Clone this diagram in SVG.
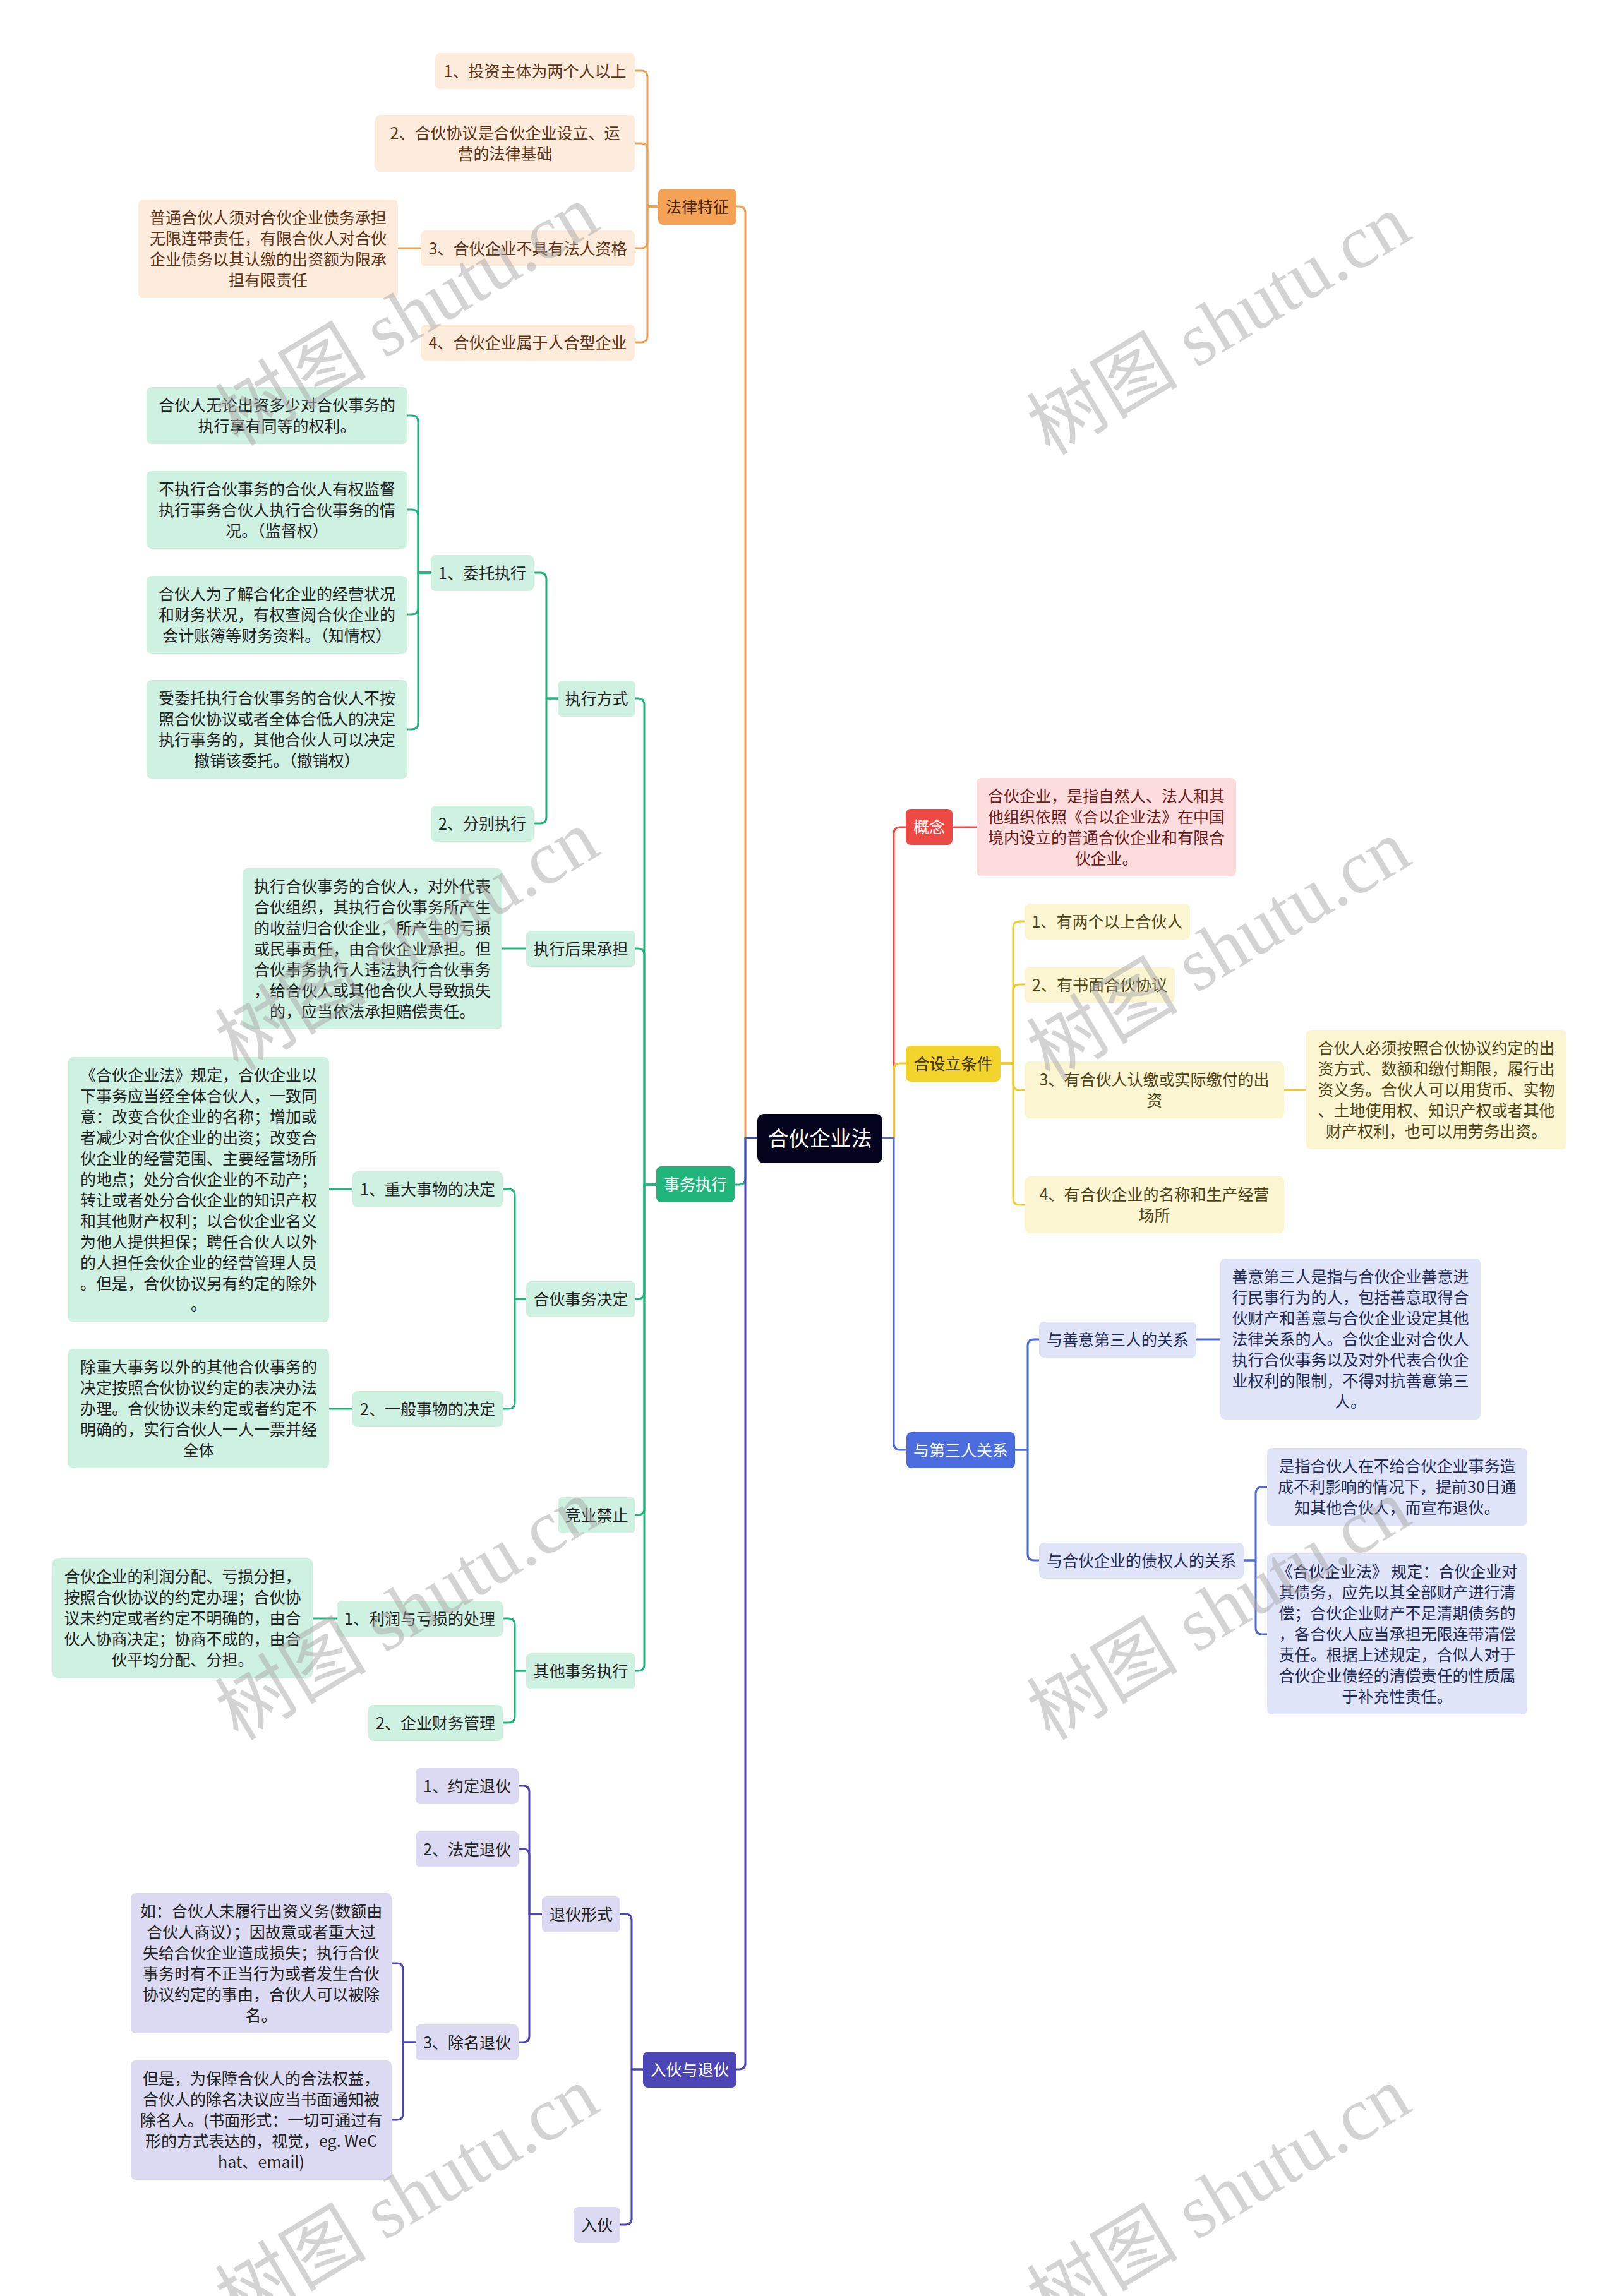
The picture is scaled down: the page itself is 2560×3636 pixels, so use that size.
<svg xmlns="http://www.w3.org/2000/svg" width="2560" height="3636" viewBox="0 0 2560 3636">
<style>
text{font-family:"Noto Sans CJK SC","Noto Sans",sans-serif;font-size:25px;text-anchor:middle}
.c{fill:none;stroke-width:3;stroke-linecap:round;stroke-linejoin:round}
.co{stroke:#f0a050}.cg{stroke:#21b57b}.cp{stroke:#4c45b6}.cr{stroke:#ec4a44}.cy{stroke:#eccc2c}.cb{stroke:#4a6ad8}
.root{fill:#05041f}.tr{fill:#fff;font-size:33px}
.mo{fill:#f3a256}.tmo{fill:#4a2508}
.lo{fill:#fdebdb}.tlo{fill:#5c3317}
.mr{fill:#ee4a45}.tw{fill:#fff}
.lr{fill:#fddcdd}.tlr{fill:#6b1a1a}
.my{fill:#f2d32c}.tmy{fill:#3d3300}
.ly{fill:#fcf5d2}.tly{fill:#4d4418}
.mb{fill:#4a6cdc}
.lb{fill:#dfe4f9}.tlb{fill:#1e2a5a}
.mg{fill:#21b57b}
.lg{fill:#cff1e2}.tlg{fill:#222}
.mp{fill:#4c45b6}
.lp{fill:#dcdaf2}.tlp{fill:#222}
.wm{font-family:"Liberation Serif","Noto Sans CJK SC",serif;font-size:120px;fill:#a8a8a8;fill-opacity:0.5}
</style>
<g id="connectors">
<path class="c co" d="M1199,1802 H1180 V337 Q1180,327 1170,327 H1166"/>
<path class="c co" d="M1005,112 H1015 Q1025,112 1025,122 V327 H1042"/>
<path class="c co" d="M1005,227 H1015 Q1025,227 1025,237 V327 H1042"/>
<path class="c co" d="M1005,393 H1015 Q1025,393 1025,383 V327 H1042"/>
<path class="c co" d="M1005,542 H1015 Q1025,542 1025,532 V327 H1042"/>
<path class="c co" d="M666,393 H630"/>
<path class="c cg" d="M1199,1802 H1180 V1866 Q1180,1876 1170,1876 H1163"/>
<path class="c cg" d="M1006,1106 H1010 Q1020,1106 1020,1116 V1876 H1039"/>
<path class="c cg" d="M1006,1502 H1010 Q1020,1502 1020,1512 V1876 H1039"/>
<path class="c cg" d="M1006,2057 H1010 Q1020,2057 1020,2047 V1876 H1039"/>
<path class="c cg" d="M1006,2399 H1010 Q1020,2399 1020,2389 V1876 H1039"/>
<path class="c cg" d="M1006,2646 H1010 Q1020,2646 1020,2636 V1876 H1039"/>
<path class="c cg" d="M845,907 H855 Q865,907 865,917 V1106 H883"/>
<path class="c cg" d="M845,1304 H855 Q865,1304 865,1294 V1106 H883"/>
<path class="c cg" d="M645,658 H652 Q662,658 662,668 V907 H682"/>
<path class="c cg" d="M645,807 H652 Q662,807 662,817 V907 H682"/>
<path class="c cg" d="M645,973 H652 Q662,973 662,963 V907 H682"/>
<path class="c cg" d="M645,1155 H652 Q662,1155 662,1145 V907 H682"/>
<path class="c cg" d="M833,1502 H795"/>
<path class="c cg" d="M796,1883 H805 Q815,1883 815,1893 V2057 H833"/>
<path class="c cg" d="M796,2231 H805 Q815,2231 815,2221 V2057 H833"/>
<path class="c cg" d="M558,1883 H521"/>
<path class="c cg" d="M558,2231 H521"/>
<path class="c cg" d="M796,2563 H805 Q815,2563 815,2573 V2646 H833"/>
<path class="c cg" d="M796,2728 H805 Q815,2728 815,2718 V2646 H833"/>
<path class="c cg" d="M533,2563 H495"/>
<path class="c cp" d="M1199,1802 H1180 V3267 Q1180,3277 1170,3277 H1166"/>
<path class="c cp" d="M982,3031 H990 Q1000,3031 1000,3041 V3277 H1018"/>
<path class="c cp" d="M982,3523 H990 Q1000,3523 1000,3513 V3277 H1018"/>
<path class="c cp" d="M821,2828 H828 Q838,2828 838,2838 V3031 H858"/>
<path class="c cp" d="M821,2928 H828 Q838,2928 838,2938 V3031 H858"/>
<path class="c cp" d="M821,3234 H828 Q838,3234 838,3224 V3031 H858"/>
<path class="c cp" d="M620,3109 H628 Q638,3109 638,3119 V3234 H658"/>
<path class="c cp" d="M620,3357 H628 Q638,3357 638,3347 V3234 H658"/>
<path class="c cr" d="M1397,1802 H1415 V1320 Q1415,1310 1425,1310 H1434"/>
<path class="c cr" d="M1508,1310 H1546"/>
<path class="c cy" d="M1397,1802 H1415 V1694 Q1415,1684 1425,1684 H1434"/>
<path class="c cy" d="M1584,1684 H1604 V1469 Q1604,1459 1614,1459 H1622"/>
<path class="c cy" d="M1584,1684 H1604 V1569 Q1604,1559 1614,1559 H1622"/>
<path class="c cy" d="M1584,1684 H1604 V1716 Q1604,1726 1614,1726 H1622"/>
<path class="c cy" d="M1584,1684 H1604 V1898 Q1604,1908 1614,1908 H1622"/>
<path class="c cy" d="M2033,1726 H2068"/>
<path class="c cb" d="M1397,1802 H1415 V2286 Q1415,2296 1425,2296 H1435"/>
<path class="c cb" d="M1607,2296 H1627 V2131 Q1627,2121 1637,2121 H1645"/>
<path class="c cb" d="M1607,2296 H1627 V2461 Q1627,2471 1637,2471 H1645"/>
<path class="c cb" d="M1894,2121 H1932"/>
<path class="c cb" d="M1969,2471 H1988 V2365 Q1988,2355 1998,2355 H2006"/>
<path class="c cb" d="M1969,2471 H1988 V2578 Q1988,2588 1998,2588 H2006"/>
</g>
<g id="n-root"><rect class="root" x="1199" y="1764" width="198" height="78" rx="10"/><text class="tr" x="1298" y="1815">合伙企业法</text></g>
<g id="n-flt"><rect class="mo" x="1042" y="299" width="124" height="57" rx="8"/><text class="tmo" x="1104" y="337">法律特征</text></g>
<g id="n-l1"><rect class="lo" x="689" y="84" width="316" height="57" rx="8"/><text class="tlo" x="847" y="122">1、投资主体为两个人以上</text></g>
<g id="n-l2"><rect class="lo" x="594" y="182" width="411" height="90" rx="8"/><text class="tlo"><tspan x="799.5" y="220">2、合伙协议是合伙企业设立、运</tspan><tspan x="799.5" y="253">营的法律基础</tspan></text></g>
<g id="n-l3"><rect class="lo" x="666" y="365" width="339" height="57" rx="8"/><text class="tlo" x="835.5" y="403">3、合伙企业不具有法人资格</text></g>
<g id="n-l3d"><rect class="lo" x="219" y="316" width="411" height="156" rx="8"/><text class="tlo"><tspan x="424.5" y="354">普通合伙人须对合伙企业债务承担</tspan><tspan x="424.5" y="387">无限连带责任，有限合伙人对合伙</tspan><tspan x="424.5" y="420">企业债务以其认缴的出资额为限承</tspan><tspan x="424.5" y="453">担有限责任</tspan></text></g>
<g id="n-l4"><rect class="lo" x="666" y="514" width="339" height="57" rx="8"/><text class="tlo" x="835.5" y="552">4、合伙企业属于人合型企业</text></g>
<g id="n-gn"><rect class="mr" x="1434" y="1281" width="74" height="57" rx="8"/><text class="tw" x="1471" y="1319">概念</text></g>
<g id="n-gnd"><rect class="lr" x="1546" y="1232" width="411" height="156" rx="8"/><text class="tlr"><tspan x="1751.5" y="1270">合伙企业，是指自然人、法人和其</tspan><tspan x="1751.5" y="1303">他组织依照《合以企业法》在中国</tspan><tspan x="1751.5" y="1336">境内设立的普通合伙企业和有限合</tspan><tspan x="1751.5" y="1369">伙企业。</tspan></text></g>
<g id="n-tj"><rect class="my" x="1434" y="1656" width="150" height="57" rx="8"/><text class="tmy" x="1509" y="1694">合设立条件</text></g>
<g id="n-c1"><rect class="ly" x="1622" y="1431" width="262" height="57" rx="8"/><text class="tly" x="1753" y="1469">1、有两个以上合伙人</text></g>
<g id="n-c2"><rect class="ly" x="1622" y="1531" width="238" height="57" rx="8"/><text class="tly" x="1741" y="1569">2、有书面合伙协议</text></g>
<g id="n-c3"><rect class="ly" x="1622" y="1681" width="411" height="90" rx="8"/><text class="tly"><tspan x="1827.5" y="1719">3、有合伙人认缴或实际缴付的出</tspan><tspan x="1827.5" y="1752">资</tspan></text></g>
<g id="n-c3d"><rect class="ly" x="2068" y="1631" width="412" height="189" rx="8"/><text class="tly"><tspan x="2274" y="1669">合伙人必须按照合伙协议约定的出</tspan><tspan x="2274" y="1702">资方式、数额和缴付期限，履行出</tspan><tspan x="2274" y="1735">资义务。合伙人可以用货币、实物</tspan><tspan x="2274" y="1768">、土地使用权、知识产权或者其他</tspan><tspan x="2274" y="1801">财产权利，也可以用劳务出资。</tspan></text></g>
<g id="n-c4"><rect class="ly" x="1622" y="1863" width="411" height="90" rx="8"/><text class="tly"><tspan x="1827.5" y="1901">4、有合伙企业的名称和生产经营</tspan><tspan x="1827.5" y="1934">场所</tspan></text></g>
<g id="n-dsr"><rect class="mb" x="1435" y="2268" width="172" height="57" rx="8"/><text class="tw" x="1521" y="2306">与第三人关系</text></g>
<g id="n-t1"><rect class="lb" x="1645" y="2093" width="249" height="57" rx="8"/><text class="tlb" x="1769.5" y="2131">与善意第三人的关系</text></g>
<g id="n-t1d"><rect class="lb" x="1932" y="1993" width="412" height="255" rx="8"/><text class="tlb"><tspan x="2138" y="2031">善意第三人是指与合伙企业善意进</tspan><tspan x="2138" y="2064">行民事行为的人，包括善意取得合</tspan><tspan x="2138" y="2097">伙财产和善意与合伙企业设定其他</tspan><tspan x="2138" y="2130">法律关系的人。合伙企业对合伙人</tspan><tspan x="2138" y="2163">执行合伙事务以及对外代表合伙企</tspan><tspan x="2138" y="2196">业权利的限制，不得对抗善意第三</tspan><tspan x="2138" y="2229">人。</tspan></text></g>
<g id="n-t2"><rect class="lb" x="1645" y="2443" width="324" height="57" rx="8"/><text class="tlb" x="1807" y="2481">与合伙企业的债权人的关系</text></g>
<g id="n-t2d1"><rect class="lb" x="2006" y="2293" width="412" height="123" rx="8"/><text class="tlb"><tspan x="2212" y="2331">是指合伙人在不给合伙企业事务造</tspan><tspan x="2212" y="2364">成不利影响的情况下，提前30日通</tspan><tspan x="2212" y="2397">知其他合伙人，而宣布退伙。</tspan></text></g>
<g id="n-t2d2"><rect class="lb" x="2006" y="2460" width="412" height="255" rx="8"/><text class="tlb"><tspan x="2212" y="2498">《合伙企业法》 规定：合伙企业对</tspan><tspan x="2212" y="2531">其债务，应先以其全部财产进行清</tspan><tspan x="2212" y="2564">偿；合伙企业财产不足清期债务的</tspan><tspan x="2212" y="2597">，各合伙人应当承担无限连带清偿</tspan><tspan x="2212" y="2630">责任。根据上述规定，合似人对于</tspan><tspan x="2212" y="2663">合伙企业债经的清偿责任的性质属</tspan><tspan x="2212" y="2696">于补充性责任。</tspan></text></g>
<g id="n-swzx"><rect class="mg" x="1039" y="1847" width="124" height="57" rx="8"/><text class="tw" x="1101" y="1885">事务执行</text></g>
<g id="n-zxfs"><rect class="lg" x="883" y="1078" width="123" height="57" rx="8"/><text class="tlg" x="944.5" y="1116">执行方式</text></g>
<g id="n-wtzx"><rect class="lg" x="682" y="879" width="163" height="57" rx="8"/><text class="tlg" x="763.5" y="917">1、委托执行</text></g>
<g id="n-wa"><rect class="lg" x="232" y="613" width="413" height="90" rx="8"/><text class="tlg"><tspan x="438.5" y="651">合伙人无论出资多少对合伙事务的</tspan><tspan x="438.5" y="684">执行享有同等的权利。</tspan></text></g>
<g id="n-wb"><rect class="lg" x="232" y="746" width="413" height="123" rx="8"/><text class="tlg"><tspan x="438.5" y="784">不执行合伙事务的合伙人有权监督</tspan><tspan x="438.5" y="817">执行事务合伙人执行合伙事务的情</tspan><tspan x="438.5" y="850">况。（监督权）</tspan></text></g>
<g id="n-wc"><rect class="lg" x="232" y="912" width="413" height="123" rx="8"/><text class="tlg"><tspan x="438.5" y="950">合伙人为了解合化企业的经营状况</tspan><tspan x="438.5" y="983">和财务状况，有权查阅合伙企业的</tspan><tspan x="438.5" y="1016">会计账簿等财务资料。（知情权）</tspan></text></g>
<g id="n-wd"><rect class="lg" x="232" y="1077" width="413" height="156" rx="8"/><text class="tlg"><tspan x="438.5" y="1115">受委托执行合伙事务的合伙人不按</tspan><tspan x="438.5" y="1148">照合伙协议或者全体合低人的决定</tspan><tspan x="438.5" y="1181">执行事务的，其他合伙人可以决定</tspan><tspan x="438.5" y="1214">撤销该委托。（撤销权）</tspan></text></g>
<g id="n-fbzx"><rect class="lg" x="682" y="1276" width="163" height="57" rx="8"/><text class="tlg" x="763.5" y="1314">2、分别执行</text></g>
<g id="n-hgcd"><rect class="lg" x="833" y="1474" width="173" height="57" rx="8"/><text class="tlg" x="919.5" y="1512">执行后果承担</text></g>
<g id="n-hgd"><rect class="lg" x="384" y="1375" width="411" height="255" rx="8"/><text class="tlg"><tspan x="589.5" y="1413">执行合伙事务的合伙人，对外代表</tspan><tspan x="589.5" y="1446">合伙组织，其执行合伙事务所产生</tspan><tspan x="589.5" y="1479">的收益归合伙企业，所产生的亏损</tspan><tspan x="589.5" y="1512">或民事责任，由合伙企业承担。但</tspan><tspan x="589.5" y="1545">合伙事务执行人违法执行合伙事务</tspan><tspan x="589.5" y="1578">，给合伙人或其他合伙人导致损失</tspan><tspan x="589.5" y="1611">的，应当依法承担赔偿责任。</tspan></text></g>
<g id="n-swjd"><rect class="lg" x="833" y="2029" width="173" height="57" rx="8"/><text class="tlg" x="919.5" y="2067">合伙事务决定</text></g>
<g id="n-zd"><rect class="lg" x="558" y="1855" width="238" height="57" rx="8"/><text class="tlg" x="677" y="1893">1、重大事物的决定</text></g>
<g id="n-zdd"><rect class="lg" x="108" y="1674" width="413" height="420" rx="8"/><text class="tlg"><tspan x="314.5" y="1712">《合伙企业法》规定，合伙企业以</tspan><tspan x="314.5" y="1745">下事务应当经全体合伙人，一致同</tspan><tspan x="314.5" y="1778">意：改变合伙企业的名称；增加或</tspan><tspan x="314.5" y="1811">者减少对合伙企业的出资；改变合</tspan><tspan x="314.5" y="1844">伙企业的经营范围、主要经营场所</tspan><tspan x="314.5" y="1877">的地点；处分合伙企业的不动产；</tspan><tspan x="314.5" y="1910">转让或者处分合伙企业的知识产权</tspan><tspan x="314.5" y="1943">和其他财产权利；以合伙企业名义</tspan><tspan x="314.5" y="1976">为他人提供担保；聘任合伙人以外</tspan><tspan x="314.5" y="2009">的人担任会伙企业的经营管理人员</tspan><tspan x="314.5" y="2042">。但是，合伙协议另有约定的除外</tspan><tspan x="314.5" y="2075">。</tspan></text></g>
<g id="n-yb"><rect class="lg" x="558" y="2203" width="238" height="57" rx="8"/><text class="tlg" x="677" y="2241">2、一般事物的决定</text></g>
<g id="n-ybd"><rect class="lg" x="108" y="2136" width="413" height="189" rx="8"/><text class="tlg"><tspan x="314.5" y="2174">除重大事务以外的其他合伙事务的</tspan><tspan x="314.5" y="2207">决定按照合伙协议约定的表决办法</tspan><tspan x="314.5" y="2240">办理。合伙协议未约定或者约定不</tspan><tspan x="314.5" y="2273">明确的，实行合伙人一人一票并经</tspan><tspan x="314.5" y="2306">全体</tspan></text></g>
<g id="n-jyjz"><rect class="lg" x="883" y="2371" width="123" height="57" rx="8"/><text class="tlg" x="944.5" y="2409">竞业禁止</text></g>
<g id="n-qtsw"><rect class="lg" x="833" y="2618" width="173" height="57" rx="8"/><text class="tlg" x="919.5" y="2656">其他事务执行</text></g>
<g id="n-lr"><rect class="lg" x="533" y="2535" width="263" height="57" rx="8"/><text class="tlg" x="664.5" y="2573">1、利润与亏损的处理</text></g>
<g id="n-lrd"><rect class="lg" x="83" y="2468" width="412" height="189" rx="8"/><text class="tlg"><tspan x="289" y="2506">合伙企业的利润分配、亏损分担，</tspan><tspan x="289" y="2539">按照合伙协议的约定办理；合伙协</tspan><tspan x="289" y="2572">议未约定或者约定不明确的，由合</tspan><tspan x="289" y="2605">伙人协商决定；协商不成的，由合</tspan><tspan x="289" y="2638">伙平均分配、分担。</tspan></text></g>
<g id="n-cw"><rect class="lg" x="583" y="2700" width="213" height="57" rx="8"/><text class="tlg" x="689.5" y="2738">2、企业财务管理</text></g>
<g id="n-rhth"><rect class="mp" x="1018" y="3249" width="148" height="57" rx="8"/><text class="tw" x="1092" y="3287">入伙与退伙</text></g>
<g id="n-thxs"><rect class="lp" x="858" y="3003" width="124" height="57" rx="8"/><text class="tlp" x="920" y="3041">退伙形式</text></g>
<g id="n-yd"><rect class="lp" x="658" y="2800" width="163" height="57" rx="8"/><text class="tlp" x="739.5" y="2838">1、约定退伙</text></g>
<g id="n-fd"><rect class="lp" x="658" y="2900" width="163" height="57" rx="8"/><text class="tlp" x="739.5" y="2938">2、法定退伙</text></g>
<g id="n-cm"><rect class="lp" x="658" y="3206" width="163" height="57" rx="8"/><text class="tlp" x="739.5" y="3244">3、除名退伙</text></g>
<g id="n-cmd1"><rect class="lp" x="207" y="2998" width="413" height="222" rx="8"/><text class="tlp"><tspan x="413.5" y="3036">如：合伙人未履行出资义务(数额由</tspan><tspan x="413.5" y="3069">合伙人商议）；因故意或者重大过</tspan><tspan x="413.5" y="3102">失给合伙企业造成损失；执行合伙</tspan><tspan x="413.5" y="3135">事务时有不正当行为或者发生合伙</tspan><tspan x="413.5" y="3168">协议约定的事由，合伙人可以被除</tspan><tspan x="413.5" y="3201">名。</tspan></text></g>
<g id="n-cmd2"><rect class="lp" x="207" y="3263" width="413" height="189" rx="8"/><text class="tlp"><tspan x="413.5" y="3301">但是，为保障合伙人的合法权益，</tspan><tspan x="413.5" y="3334">合伙人的除名决议应当书面通知被</tspan><tspan x="413.5" y="3367">除名人。(书面形式：一切可通过有</tspan><tspan x="413.5" y="3400">形的方式表达的，视觉，eg. WeC</tspan><tspan x="413.5" y="3433">hat、email)</tspan></text></g>
<g id="n-rh"><rect class="lp" x="908" y="3495" width="74" height="57" rx="8"/><text class="tlp" x="945" y="3533">入伙</text></g>
<g id="watermarks">
<text class="wm" x="645" y="540" transform="rotate(-31 645 500)">树图 shutu.cn</text>
<text class="wm" x="1930" y="555" transform="rotate(-31 1930 515)">树图 shutu.cn</text>
<text class="wm" x="645" y="1530" transform="rotate(-31 645 1490)">树图 shutu.cn</text>
<text class="wm" x="1930" y="1545" transform="rotate(-31 1930 1505)">树图 shutu.cn</text>
<text class="wm" x="645" y="2590" transform="rotate(-31 645 2550)">树图 shutu.cn</text>
<text class="wm" x="1930" y="2590" transform="rotate(-31 1930 2550)">树图 shutu.cn</text>
<text class="wm" x="645" y="3520" transform="rotate(-31 645 3480)">树图 shutu.cn</text>
<text class="wm" x="1930" y="3520" transform="rotate(-31 1930 3480)">树图 shutu.cn</text>
</g>
</svg>
